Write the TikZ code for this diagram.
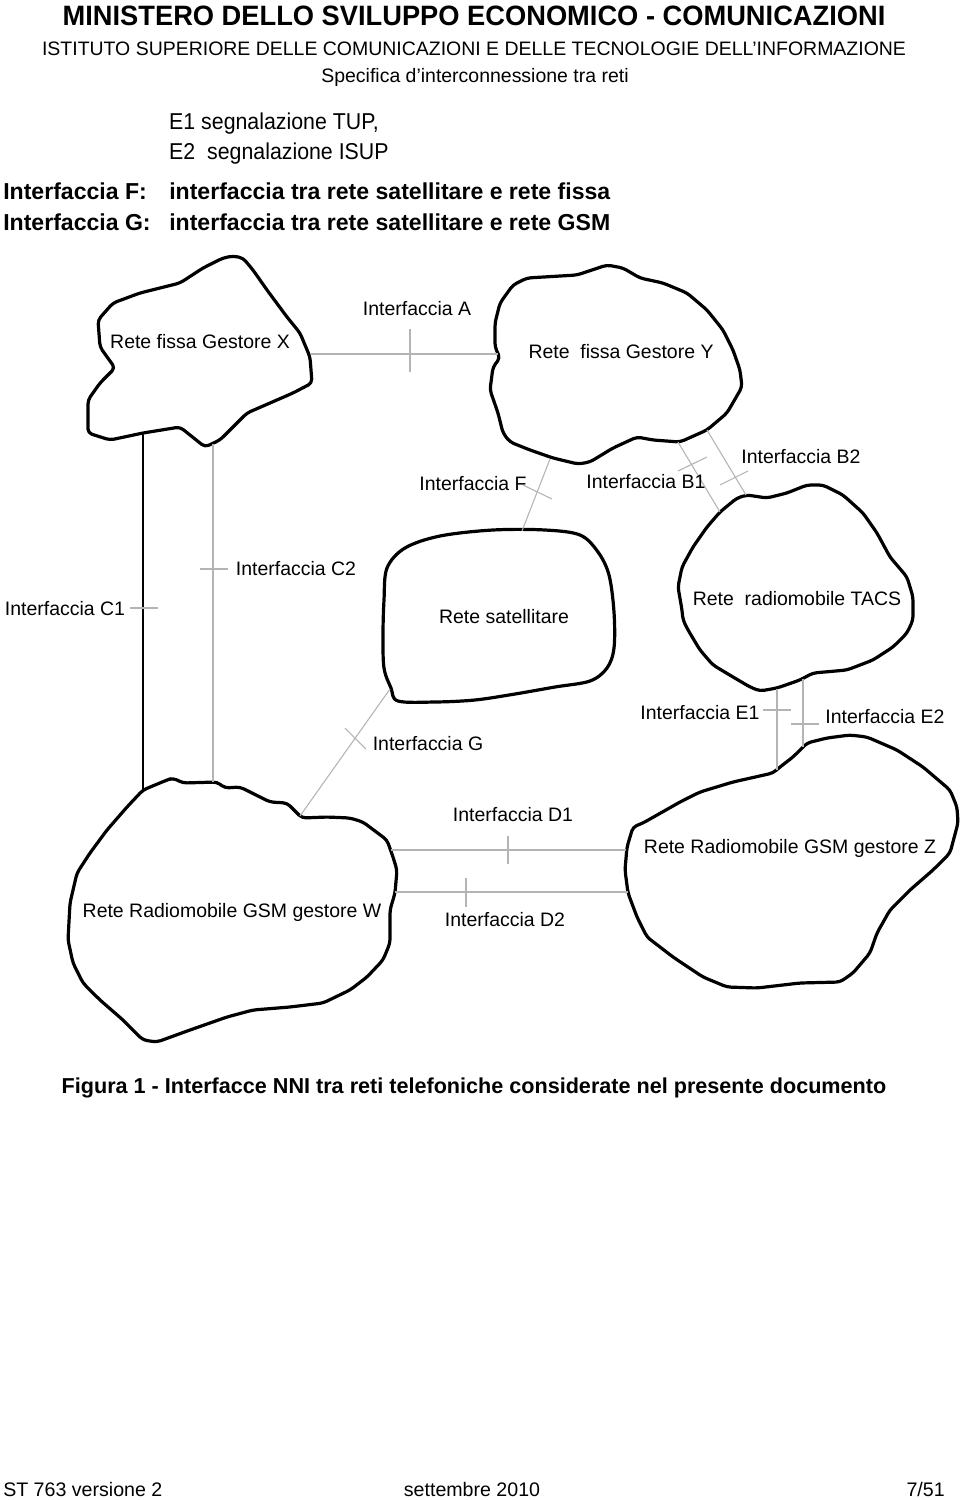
\documentclass[tikz,border=0pt]{standalone}
\usepackage{fontspec}
\setmainfont{Liberation Sans}
\definecolor{linkgray}{HTML}{B4B4B4}
\begin{document}
\begin{tikzpicture}[x=0.75pt,y=-0.75pt,
  blob/.style={draw=black,line width=2.4pt,line join=round,rounded corners=3pt},
  smoothblob/.style={draw=black,line width=2.4pt,line join=round},
  link/.style={draw=linkgray,line width=0.8pt},
  thicklink/.style={draw=black,line width=2pt},
  tickmark/.style={draw=linkgray,line width=0.8pt},
  lbl/.style={font=\fontsize{14.6}{17}\selectfont,anchor=base,inner sep=0pt},
  titlefont/.style={font=\bfseries\fontsize{21}{24}\selectfont,anchor=base,inner sep=0pt,xscale=0.974,transform shape},
  headfont/.style={font=\fontsize{14.6}{17}\selectfont,anchor=base,inner sep=0pt},
  notefont/.style={font=\fontsize{17.2}{20}\selectfont,anchor=base west,inner sep=0pt,xscale=0.93,transform shape},
  boldnote/.style={font=\bfseries\fontsize{17.3}{20}\selectfont,anchor=base west,inner sep=0pt},
  captionfont/.style={font=\bfseries\fontsize{16.2}{19}\selectfont,anchor=base,inner sep=0pt},
  footfont/.style={font=\fontsize{14.7}{17}\selectfont,inner sep=0pt}]
\useasboundingbox[fill=white] (0,0) rectangle (960,1500);

% ---------- header ----------
\node[titlefont] (title) at (474,25) {MINISTERO DELLO SVILUPPO ECONOMICO - COMUNICAZIONI};
\node[headfont] (inst) at (474,55) {ISTITUTO SUPERIORE DELLE COMUNICAZIONI E DELLE TECNOLOGIE DELL’INFORMAZIONE};
\node[headfont] (spec) at (475,82) {Specifica d’interconnessione tra reti};
\node[notefont] (e1note) at (169,129) {E1 segnalazione TUP,};
\node[notefont] (e2note) at (169,159) {E2\ \ segnalazione ISUP};
\node[boldnote] (fkey) at (3,199) {Interfaccia F:};
\node[boldnote] (fdesc) at (169,199) {interfaccia tra rete satellitare e rete fissa};
\node[boldnote] (gkey) at (3,230) {Interfaccia G:};
\node[boldnote] (gdesc) at (169,230) {interfaccia tra rete satellitare e rete GSM};

% ---------- networks (clouds) ----------
% Rete fissa Gestore X
\draw[blob] (98,320) -- (100,347) -- (115,368) -- (100,383) -- (88,400) -- (88,433) -- (110,440) -- (143,433)
 -- (180,427) -- (205,447) -- (220,440) -- (247,413) -- (293,393) -- (312,383) -- (310,357) -- (300,333)
 -- (287,317) -- (267,290) -- (253,270) -- (243,258) -- (233,256) -- (223,258) -- (203,268) -- (180,283)
 -- (140,293) -- (113,303) -- cycle;
% Rete fissa Gestore Y
\draw[blob] (607,265) -- (577,275) -- (527,278) -- (513,285) -- (500,303) -- (495,323) -- (495,347) -- (500,358)
 -- (493,367) -- (490,390) -- (498,413) -- (503,433) -- (510,442) -- (530,450) -- (553,458) -- (578,464)
 -- (590,462) -- (613,448) -- (637,437) -- (653,440) -- (680,442) -- (707,430) -- (727,413) -- (742,387)
 -- (740,370) -- (733,350) -- (723,330) -- (707,310) -- (687,293) -- (663,283) -- (640,278) -- (623,268) -- cycle;
% Rete satellitare
\draw[smoothblob] plot[smooth cycle,tension=0.55] coordinates {
 (384,600) (387,568) (405,548) (440,536) (493,530) (545,530) (580,535) (598,552)
 (609,575) (614,612) (614,648) (607,668) (590,681) (555,687) (515,694) (475,700)
 (435,702) (398,701) (391,688) (384,668) (383,635)};
% Rete radiomobile TACS
\draw[blob] (720,512) -- (737,498) -- (747,495) -- (767,498) -- (787,493) -- (807,485) -- (823,485) -- (843,495)
 -- (863,513) -- (877,533) -- (890,557) -- (907,577) -- (913,597) -- (913,620) -- (907,633) -- (893,647)
 -- (873,660) -- (847,670) -- (813,673) -- (800,680) -- (777,688) -- (760,691) -- (750,687) -- (733,677)
 -- (713,665) -- (700,650) -- (688,630) -- (683,620) -- (682,610) -- (678,587) -- (682,567) -- (693,547)
 -- (707,527) -- cycle;
% Rete Radiomobile GSM gestore Z
\draw[blob] (773,773) -- (780,767) -- (793,757) -- (807,743) -- (827,738) -- (850,735) -- (867,737) -- (897,750)
 -- (923,767) -- (950,790) -- (957,807) -- (958,823) -- (950,853) -- (933,870) -- (910,890) -- (890,910)
 -- (877,933) -- (870,953) -- (853,973) -- (840,982) -- (800,983) -- (757,988) -- (727,987) -- (703,977)
 -- (673,957) -- (647,937) -- (637,917) -- (628,893) -- (625,870) -- (627,847) -- (633,827) -- (643,823)
 -- (680,802) -- (700,792) -- (733,782) -- cycle;
% Rete Radiomobile GSM gestore W
\draw[blob] (143,790) -- (167,780) -- (173,778) -- (183,783) -- (217,782) -- (225,788) -- (240,787) -- (270,802)
 -- (287,803) -- (302,818) -- (327,817) -- (350,818) -- (363,822) -- (387,840) -- (393,857) -- (397,870)
 -- (395,893) -- (390,910) -- (390,943) -- (383,960) -- (367,977) -- (350,990) -- (323,1003) -- (290,1007)
 -- (253,1010) -- (227,1017) -- (190,1030) -- (157,1042) -- (143,1040) -- (123,1020) -- (100,1000)
 -- (83,983) -- (73,963) -- (68,940) -- (70,903) -- (77,873) -- (90,853) -- (107,830) -- (127,807) -- cycle;

% ---------- network labels ----------
\node[lbl] (netX) at (200,348) {Rete fissa Gestore X};
\node[lbl] (netY) at (621,358) {Rete\ \ fissa Gestore Y};
\node[lbl] (netS) at (504,623) {Rete satellitare};
\node[lbl] (netT) at (797,605) {Rete\ \ radiomobile TACS};
\node[lbl] (netZ) at (790,853) {Rete Radiomobile GSM gestore Z};
\node[lbl] (netW) at (232,917) {Rete Radiomobile GSM gestore W};

% ---------- attachment points on the outlines ----------
\coordinate (xA) at (311,354);  \coordinate (yA) at (498,354);
\coordinate (yF) at (550,459);  \coordinate (sF) at (522,531);
\coordinate (yB1) at (678,442); \coordinate (tB1) at (720,512);
\coordinate (yB2) at (707,430); \coordinate (tB2) at (746,495);
\coordinate (xC1) at (143,434); \coordinate (wC1) at (143,790);
\coordinate (xC2) at (213,444); \coordinate (wC2) at (213,782);
\coordinate (sG) at (390,689);  \coordinate (wG) at (300,816);
\coordinate (tE1) at (777,689); \coordinate (zE1) at (777,770);
\coordinate (tE2) at (803,679); \coordinate (zE2) at (803,747);
\coordinate (wD1) at (391,850); \coordinate (zD1) at (626,850);
\coordinate (wD2) at (395,892); \coordinate (zD2) at (628,892);

% ---------- connectors ----------
\draw[link] (xA) -- (yA);
\draw[link] (yF) -- (sF);
\draw[link] (yB1) -- (tB1);
\draw[link] (yB2) -- (tB2);
\draw[thicklink] (xC1) -- (wC1);
\draw[link] (xC2) -- (wC2);
\draw[link] (sG) -- (wG);
\draw[link] (tE1) -- (zE1);
\draw[link] (tE2) -- (zE2);
\draw[link] (wD1) -- (zD1);
\draw[link] (wD2) -- (zD2);

% ---------- interface tick marks ----------
\draw[tickmark] (410,329) -- (410,372);
\draw[tickmark] (523,485) -- (552,499);
\draw[tickmark] (678,471) -- (707,457);
\draw[tickmark] (720,485) -- (748,471);
\draw[tickmark] (130,608) -- (158,608);
\draw[tickmark] (200,569) -- (228,569);
\draw[tickmark] (345,728) -- (366,749);
\draw[tickmark] (763,710) -- (791,710);
\draw[tickmark] (791,724) -- (819,724);
\draw[tickmark] (508,836) -- (508,864);
\draw[tickmark] (466,878) -- (466,907);

% ---------- interface labels ----------
\node[lbl] (iA) at (417,315) {Interfaccia A};
\node[lbl] (iF) at (473,490) {Interfaccia F};
\node[lbl] (iB1) at (646,488) {Interfaccia B1};
\node[lbl] (iB2) at (801,463) {Interfaccia B2};
\node[lbl] (iC1) at (65,615) {Interfaccia C1};
\node[lbl] (iC2) at (296,575) {Interfaccia C2};
\node[lbl] (iG) at (428,750) {Interfaccia G};
\node[lbl] (iE1) at (700,719) {Interfaccia E1};
\node[lbl] (iE2) at (885,723) {Interfaccia E2};
\node[lbl] (iD1) at (513,821) {Interfaccia D1};
\node[lbl] (iD2) at (505,926) {Interfaccia D2};

% ---------- caption and footer ----------
\node[captionfont] (caption) at (474,1093) {Figura 1 - Interfacce NNI tra reti telefoniche considerate nel presente documento};
\node[footfont,anchor=base west] (fleft) at (3,1496) {ST 763 versione 2};
\node[footfont,anchor=base] (fmid) at (472,1496) {settembre 2010};
\node[footfont,anchor=base east] (fright) at (945,1496) {7/51};
\end{tikzpicture}
\end{document}
